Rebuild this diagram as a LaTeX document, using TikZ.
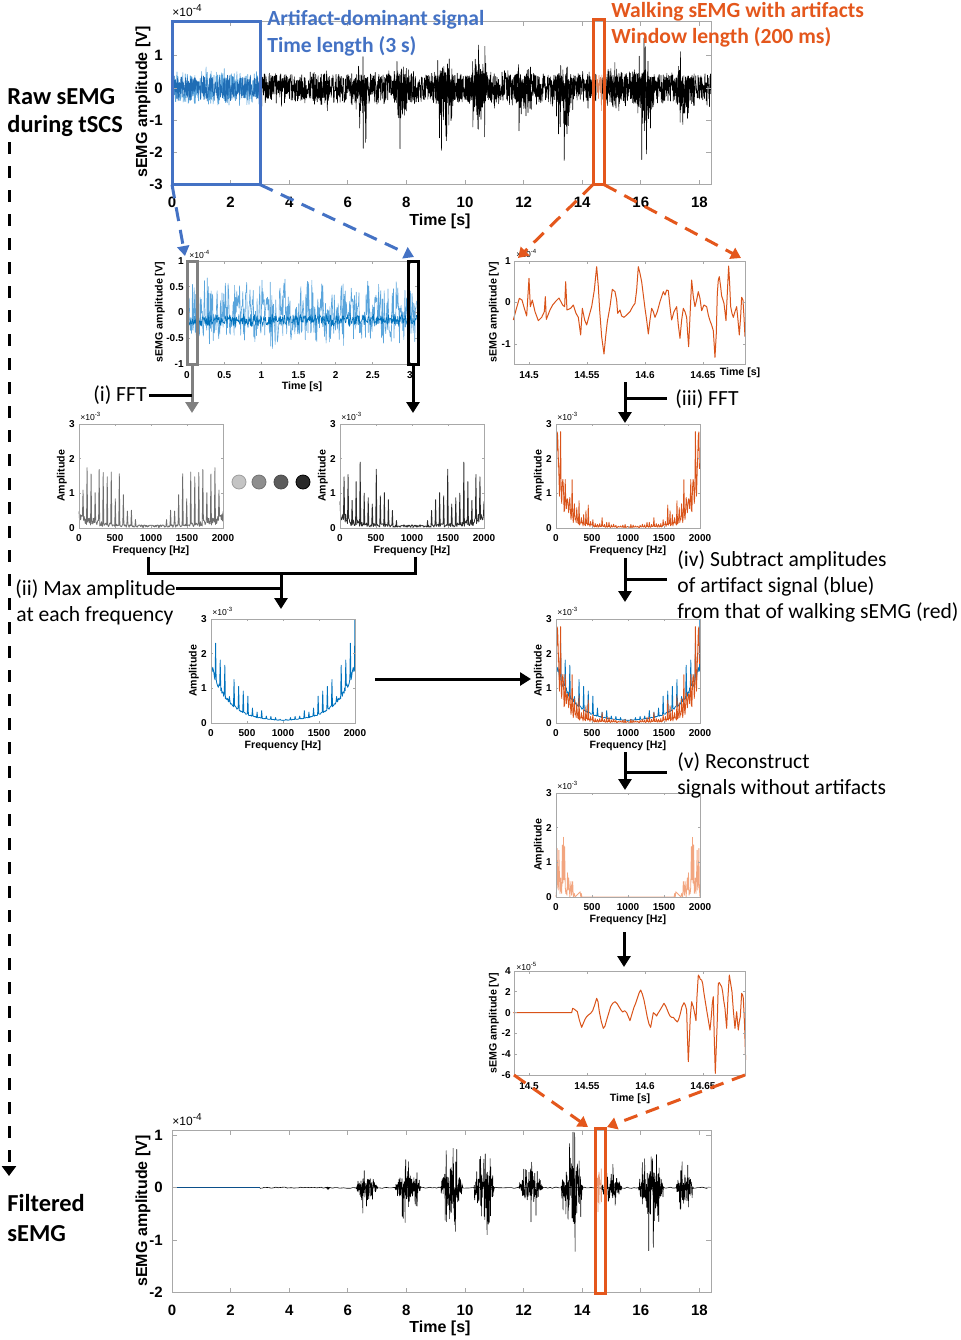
\documentclass[tikz,border=0pt]{standalone}
\usepackage{fontspec}
\setmainfont{Carlito}
\newfontfamily\plotfont{Liberation Sans}
\usetikzlibrary{arrows.meta}
\definecolor{abl}{HTML}{4472C4}
\definecolor{aor}{HTML}{E4571C}
\definecolor{sor}{HTML}{D95319}
\definecolor{lor}{HTML}{F2A57F}
\definecolor{lbl}{HTML}{5AA5DC}
\definecolor{mbl}{HTML}{1F6DB5}
\definecolor{dbl}{HTML}{0B4F8A}
\definecolor{gbl}{HTML}{0072BD}
\definecolor{axc}{HTML}{A8A8A8}
\definecolor{gsp}{HTML}{6E6E6E}
\definecolor{ksp}{HTML}{2A2A2A}
\definecolor{ciA}{HTML}{C4C4C4}
\definecolor{ciB}{HTML}{8E8E8E}
\definecolor{ciC}{HTML}{5C5C5C}
\definecolor{ciD}{HTML}{2A2A2A}
\tikzset{
 sig/.style={line width=0.3pt, line join=round},
 axis/.style={draw=axc, line width=0.5pt},
 tkL/.style={font=\plotfont\bfseries\fontsize{7.5}{8}\selectfont, inner sep=1pt},
 tkS/.style={font=\plotfont\bfseries\fontsize{5}{6}\selectfont, inner sep=0.5pt},
 labL/.style={font=\plotfont\bfseries\fontsize{8}{9}\selectfont, inner sep=0pt},
 labS/.style={font=\plotfont\bfseries\fontsize{5.3}{6}\selectfont, inner sep=0pt},
 expL/.style={font=\plotfont\fontsize{6}{7}\selectfont, inner sep=0pt},
 expS/.style={font=\plotfont\fontsize{4.3}{5}\selectfont, inner sep=0pt},
 ann/.style={font=\fontsize{12.2}{14}\selectfont\bfseries, inner sep=0pt},
 stepl/.style={font=\fontsize{10.8}{13}\selectfont, inner sep=0pt},
 annc/.style={font=\fontsize{10.8}{13}\selectfont\bfseries, inner sep=0pt},
 arr/.style={line width=1.5pt, -{Triangle[width=6.5pt,length=5.5pt]}},
 conn/.style={line width=1.5pt},
 bdash/.style={abl, line width=1.5pt, dash pattern=on 7pt off 4.5pt, -{Triangle[width=6pt,length=5pt]}},
 odash/.style={aor, line width=1.5pt, dash pattern=on 7pt off 4.5pt, -{Triangle[width=6pt,length=5pt]}},
 kdash/.style={black, line width=1.5pt, dash pattern=on 6pt off 6pt, -{Triangle[width=7pt,length=5pt]}},
 hbox/.style={line width=1.5pt},
}
% ticks: name, ytop, ybottom, length, style, list px/label
\newcommand\xtk[6]{\foreach \pp/\lb [count=\k] in {#6}{%
   \draw[axis] (\pp,#3) -- ++(0,-#4) (\pp,#2) -- ++(0,#4);
   \node[#5,anchor=north] (#1x\k) at (\pp,#3) {\lb};}}
\newcommand\ytk[6]{\foreach \pp/\lb [count=\k] in {#6}{%
   \draw[axis] (#2,\pp) -- ++(#4,0) (#3,\pp) -- ++(-#4,0);
   \node[#5,anchor=east] (#1y\k) at (#2,\pp) {\lb};}}
% fft axes: name, x0, ytop
\newcommand\fftax[3]{%
 \pgfmathsetmacro\fb{#3+104}%
 \draw[axis] (#2,#3) rectangle (#2+144,\fb);
 \xtk{#1}{#3}{\fb}{2}{tkS,yshift=-2.5pt}{#2/0,#2+36/500,#2+72/1000,#2+108/1500,#2+144/2000}
 \ytk{#1}{#2}{#2+144}{2}{tkS,xshift=-1.5pt}{\fb/0,\fb-34.667/1,\fb-69.333/2,#3/3}
 \node[labS] (#1xl) at (#2+72,#3+127) {Frequency [Hz]};
 \node[labS,rotate=90] (#1yl) at (#2-17,#3+52) {Amplitude};
 \node[expS,anchor=west] (#1ex) at (#2+1,#3-8) {×10\textsuperscript{-3}};}
% spectrum: x0, ybottom, style, seed ; expression \spx
\newcommand\spec[4]{%
 \begin{scope}[shift={(#1,#2)},xscale=0.576,yscale=-34.667]
  \pgfmathsetseed{#4}\draw[#3] plot[domain=0:125,samples=126] (\x,{\spx});
 \end{scope}
 \begin{scope}[shift={(#1+144,#2)},xscale=-0.576,yscale=-34.667]
  \pgfmathsetseed{#4}\draw[#3] plot[domain=0:125,samples=126] (\x,{\spx});
 \end{scope}}
% burst: color, centre, half width, up, down, samples (dense core with frequent spikes)
\newcommand\burst[6]{%
  \pgfmathsetmacro\bdA{#2-#3}\pgfmathsetmacro\bdB{#2+#3}%
  \draw[sig,#1] plot[domain=\bdA:\bdB,samples=#6] (\x,{bu(\x,#2,#3)*sk(rand*(0.3+0.25*rnd)+(2*round(rnd)-1)*ceil(max(0,rnd-0.8))*(0.3+0.45*rnd),#4,#5)});}
\def\exD{(0.08+0.45*exp(-4*\x/125))*(0.2+0.8*rnd)+max(0,1-mod(\x,7))*(0.35+0.65*rnd)*max(0,1.9*(1-((\x/125-0.34)/0.47)*((\x/125-0.34)/0.47)))}
\def\exG{(0.06+1.75*exp(-4.2*\x/125))*(0.85+0.15*rnd)+max(0,1-mod(\x,8))*(0.2+1.5*rnd)*exp(-1.5*\x/125)*(1-(\x/125)*(\x/125))}
\def\exF{(0.04+3.2*exp(-8*\x/125))*(0.3+0.7*rnd)+max(0,1-mod(\x,4))*(0.15+0.85*rnd*rnd)*3.4*exp(-3.5*\x/125)}
\begin{document}
\begin{tikzpicture}[x=0.5pt,y=-0.5pt,
  declare function={bu(\vt,\vc,\vw)=max(0,1-((\vt-\vc)/\vw)*((\vt-\vc)/\vw));
    sk(\vr,\va,\vb)=\va*max(min(\vr,1),0)+\vb*min(max(\vr,-1),0);}]
\useasboundingbox (0,0) rectangle (961,1340);

%================ A: raw sEMG =================
\begin{scope}[shift={(172,88)},xscale=29.3,yscale=-32.2]
 \pgfmathsetseed{11}
 \draw[sig,lbl] plot[domain=0:3,samples=300] (\x,{rand*(0.38+0.15*rnd+0.3*rnd*rnd*rnd)});
 \draw[sig,mbl] plot[domain=0:3,samples=300] (\x,{rand*(0.3+0.15*rnd)});
 \draw[sig,black] plot[domain=3:14.48,samples=1500] (\x,{rand*(0.35+0.15*rnd+0.4*rnd*rnd*rnd)});
 \draw[sig,black] plot[domain=14.68:18.4,samples=480] (\x,{rand*(0.35+0.15*rnd+0.4*rnd*rnd*rnd)});
 \draw[sig,sor!70] plot[domain=14.48:14.68,samples=24] (\x,{rand*(0.35+0.6*rnd*rnd)});
 \burst{black}{5.2}{0.2}{0.55}{0.95}{50}
 \burst{black}{6.5}{0.3}{1.05}{1.95}{80}
 \burst{black}{7.85}{0.35}{1.35}{2.15}{95}
 \burst{black}{9.3}{0.35}{1.85}{2.35}{95}
 \burst{black}{10.5}{0.35}{1.75}{2.15}{95}
 \burst{black}{12.0}{0.35}{1.15}{2.0}{95}
 \burst{black}{13.4}{0.35}{1.65}{2.65}{95}
 \burst{black}{15.05}{0.3}{1.05}{1.4}{80}
 \burst{black}{16.1}{0.4}{1.55}{2.4}{105}
 \burst{black}{17.4}{0.3}{1.25}{1.95}{80}
\end{scope}
\draw[axis] (172,21) rectangle (711,184.6);
\xtk{A}{21}{184.6}{5}{tkL,yshift=-5pt}{172/0,230.6/2,289.2/4,347.8/6,406.4/8,465/10,523.6/12,582.2/14,640.8/16,699.4/18}
\ytk{A}{172}{711}{5}{tkL,xshift=-3.5pt}{55.8/1,88/0,120.2/-1,152.4/-2,184.6/-3}
\node[labL] (Axl) at (440,221) {Time [s]};
\node[labL,rotate=90] (Ayl) at (143,102) {sEMG amplitude [V]};
\node[expL,anchor=west] (Aex) at (172,11) {×10\textsuperscript{-4}};
\draw[abl,hbox] (172,21) rectangle (260,184.6);
\draw[aor,hbox] (593,19) rectangle (604,184.6);
\coordinate (Abl) at (172,184.6); \coordinate (Abr) at (260,184.6);
\coordinate (Aol) at (593,184.6); \coordinate (Aor) at (604,184.6);
\node[annc,text=abl,anchor=base west] (art1) at (267,25) {Artifact-dominant signal};
\node[annc,text=abl,anchor=base west] (art2) at (267,52) {Time length (3 s)};
\node[annc,text=aor,anchor=base west] (wal1) at (611,17) {Walking sEMG with artifacts};
\node[annc,text=aor,anchor=base west] (wal2) at (611,43) {Window length (200 ms)};

%================ B: artifact signal =================
\begin{scope}[shift={(187,312.5)},xscale=74.3,yscale=-51.5]
 \pgfmathsetseed{21}
 \draw[sig,lbl] plot[domain=0:3.09,samples=420] (\x,{rand*(0.4+0.15*rnd+0.3*rnd*rnd)});
 \draw[sig,gbl] plot[domain=0:3.09,samples=500] (\x,{-0.15+0.14*rand*(0.5+0.5*rnd)});
\end{scope}
\draw[axis] (187,261) rectangle (417,364);
\xtk{B}{261}{364}{2.5}{tkS,yshift=-3pt}{187/0,224.2/0.5,261.3/1,298.5/1.5,335.6/2,372.8/2.5,410/3}
\ytk{B}{187}{417}{2.5}{tkS,xshift=-1pt}{261/1,286.8/0.5,312.5/0,338.3/-0.5,364/-1}
\node[labS] (Bxl) at (302,387) {Time [s]};
\node[labS,rotate=90] (Byl) at (160,312) {sEMG amplitude [V]};
\node[expS,anchor=west] (Bex) at (189,254) {×10\textsuperscript{-4}};
\draw[gray,hbox] (187,261) rectangle (197,364);
\draw[black,hbox] (408,261) rectangle (418,364);
\coordinate (Bgs) at (192,364); \coordinate (Bks) at (413,364);
\coordinate (Btl) at (185,256); \coordinate (Btr) at (414,257);

%================ C: walking window =================
\begin{scope}[shift={(480,240)},scale=0.3333]
 \draw[sor,line width=0.5pt,line join=round] plot coordinates {(100,240)(108,210)(118,175)(126,180)(133,205)(140,228)(147,115)(151,200)(157,180)(165,215)(175,242)(185,232)(193,215)(196,170)(199,238)(210,210)(218,195)(228,183)(237,174)(248,195)(254,200)(257,125)(261,210)(272,205)(280,195)(288,220)(295,232)(302,285)(307,205)(314,240)(320,255)(328,225)(335,200)(343,150)(350,80)(355,140)(359,210)(365,290)(372,342)(377,290)(382,245)(390,200)(397,148)(405,155)(410,180)(413,220)(420,210)(425,228)(432,232)(440,225)(450,215)(458,200)(465,190)(470,150)(475,80)(480,100)(485,125)(490,165)(495,205)(500,240)(505,282)(510,240)(515,205)(520,215)(525,232)(532,215)(540,185)(545,170)(550,155)(555,165)(560,150)(565,152)(570,200)(575,240)(582,215)(590,200)(595,255)(600,295)(605,240)(610,205)(615,215)(620,232)(623,280)(626,320)(630,230)(635,120)(640,170)(645,200)(650,180)(655,155)(660,175)(665,212)(672,195)(680,200)(685,225)(690,242)(695,255)(700,272)(705,352)(709,280)(712,160)(715,120)(718,110)(722,140)(725,168)(729,180)(732,190)(735,215)(738,242)(742,160)(746,78)(749,130)(752,200)(756,220)(760,232)(765,215)(770,200)(774,240)(778,285)(782,230)(785,172)(789,180)(792,230)(795,290)};
\end{scope}
\draw[axis] (514,261) rectangle (745,364);
\xtk{C}{261}{364}{2.5}{tkS,yshift=-3pt}{529/14.5,587/14.55,645/14.6,703/14.65}
\ytk{C}{514}{745}{2.5}{tkS,xshift=-1pt}{261/1,302.5/0,344/-1}
\node[labS] (Cxl) at (740,373) {Time [s]};
\node[labS,rotate=90] (Cyl) at (494,312) {sEMG amplitude [V]};
\node[expS,anchor=west] (Cex) at (516,253) {×10\textsuperscript{-4}};
\coordinate (Ctl) at (518,258); \coordinate (Ctr) at (741,258);

%================ dashed zoom connectors =================
\draw[bdash] (Abl) -- (Btl);
\draw[bdash] (Abr) -- (Btr);
\draw[odash] (Aol) -- (Ctl);
\draw[odash] (Aor) -- (Ctr);

%================ D, E: FFT of artifact windows =================
\let\spx\exD
\spec{79}{528}{sig,gsp,line width=0.4pt}{5}
\spec{340}{528}{sig,ksp,line width=0.4pt}{7}
\fftax{D}{79}{424}
\fftax{E}{340}{424}
\node[circle,fill=ciA,draw=ciA!80!black,line width=0.4pt,minimum size=7pt,inner sep=0pt] (cA) at (239,482) {};
\node[circle,fill=ciB,draw=ciB!80!black,line width=0.4pt,minimum size=7pt,inner sep=0pt] (cB) at (259,482) {};
\node[circle,fill=ciC,draw=ciC!80!black,line width=0.4pt,minimum size=7pt,inner sep=0pt] (cC) at (281,482) {};
\node[circle,fill=ciD,draw=black,line width=0.4pt,minimum size=7pt,inner sep=0pt] (cD) at (303,482) {};

%================ F: FFT of walking window =================
\begin{scope}
 \clip (556,424) rectangle (700,528);
 \let\spx\exF
 \spec{556}{528}{sig,sor,line width=0.4pt}{13}
\end{scope}
\fftax{F}{556}{424}

%================ G: max amplitude =================
\begin{scope}
 \clip (211,619) rectangle (355,723);
 \let\spx\exG
 \spec{211}{723}{sig,gbl,line width=0.4pt}{17}
\end{scope}
\fftax{G}{211}{619}

%================ H: overlay =================
\begin{scope}
 \clip (556,619) rectangle (700,723);
 \let\spx\exG
 \spec{556}{723}{sig,gbl,line width=0.4pt}{17}
 \let\spx\exF
 \spec{556}{723}{sig,sor,line width=0.4pt}{13}
\end{scope}
\fftax{H}{556}{619}

%================ I: reconstructed spectrum =================
\begin{scope}[shift={(556,897)},xscale=0.072,yscale=-34.667]
 \draw[sig,lor,line width=0.4pt] plot coordinates {(0,0)(8,0.2)(16,1.4)(24,0.4)(32,0.2)(40,1.35)(48,0.6)(56,0.1)(64,0.55)(72,0.2)(80,0.1)(88,1.5)(96,0.4)(104,1.72)(112,0.5)(120,1.45)(128,0.3)(136,0.1)(144,0.2)(152,0.05)(160,0.7)(168,0.2)(176,0.55)(184,0.3)(192,0)(208,0.45)(216,0.05)(232,0.45)(240,0)(256,0.1)(264,0)(336,0.15)(344,0)(352,0.1)(360,0)(1000,0)};
\end{scope}
\begin{scope}[shift={(700,897)},xscale=-0.072,yscale=-34.667]
 \draw[sig,lor,line width=0.4pt] plot coordinates {(0,0)(8,0.2)(16,1.4)(24,0.4)(32,0.2)(40,1.35)(48,0.6)(56,0.1)(64,0.55)(72,0.2)(80,0.1)(88,1.5)(96,0.4)(104,1.72)(112,0.5)(120,1.45)(128,0.3)(136,0.1)(144,0.2)(152,0.05)(160,0.7)(168,0.2)(176,0.55)(184,0.3)(192,0)(208,0.45)(216,0.05)(232,0.45)(240,0)(256,0.1)(264,0)(336,0.15)(344,0)(352,0.1)(360,0)(1000,0)};
\end{scope}
\fftax{I}{556}{793}

%================ J: reconstructed window =================
\begin{scope}[shift={(480,940)},scale=0.3333]
 \draw[sor,line width=0.5pt,line join=round] plot coordinates {(100,218)(275,218)(278,205)(282,207)(286,210)(292,215)(298,240)(305,262)(310,250)(315,238)(320,230)(325,225)(332,220)(338,212)(344,195)(350,175)(354,185)(358,215)(364,245)(370,265)(375,258)(380,240)(386,220)(392,200)(398,190)(405,185)(412,192)(418,202)(423,210)(428,216)(434,212)(440,218)(445,230)(450,242)(455,225)(462,202)(467,190)(472,175)(477,160)(482,150)(487,162)(492,180)(497,205)(502,232)(507,252)(512,262)(516,240)(520,218)(525,222)(530,228)(534,220)(538,214)(545,202)(552,190)(557,198)(562,210)(566,220)(570,228)(575,232)(580,232)(586,240)(592,246)(596,238)(600,225)(606,200)(612,188)(616,195)(620,210)(622,280)(625,365)(628,300)(631,230)(635,185)(638,195)(640,200)(644,220)(648,242)(651,170)(655,105)(658,110)(661,118)(665,120)(668,130)(672,160)(676,185)(680,210)(685,240)(690,270)(694,230)(697,190)(700,170)(703,300)(706,400)(709,320)(712,240)(715,130)(718,128)(722,135)(725,140)(728,155)(731,180)(735,205)(740,265)(744,170)(748,105)(752,130)(756,155)(760,210)(765,265)(768,235)(770,215)(773,250)(775,270)(778,245)(781,230)(785,160)(788,165)(790,175)(794,260)(797,360)};
\end{scope}
\draw[axis] (514,971) rectangle (745,1075);
\xtk{J}{971}{1075}{2.5}{tkS,yshift=-3pt}{529/14.5,587/14.55,645/14.6,703/14.65}
\ytk{J}{514}{745}{2.5}{tkS,xshift=-1pt}{971/4,991.8/2,1012.6/0,1033.4/-2,1054.2/-4,1075/-6}
\node[labS] (Jxl) at (630,1099) {Time [s]};
\node[labS,rotate=90] (Jyl) at (494,1023) {sEMG amplitude [V]};
\node[expS,anchor=west] (Jex) at (516,966) {×10\textsuperscript{-5}};
\coordinate (Jbl) at (514,1075); \coordinate (Jbr) at (745,1075);

%================ K: filtered sEMG =================
\begin{scope}[shift={(172,1187.7)},xscale=29.3,yscale=-52.4]
 \pgfmathsetseed{31}
 \draw[dbl,line width=0.4pt] (0,0) -- (3,0);
 \draw[sig,black] plot[domain=3:18.4,samples=200] (\x,{0.012*rand});
 \burst{black}{5.32}{0.07}{0.06}{0.06}{16}
 \burst{black}{6.65}{0.38}{0.45}{0.65}{110}
 \burst{black}{8.05}{0.45}{0.55}{0.7}{130}
 \burst{black}{9.55}{0.38}{0.95}{1.0}{110}
 \burst{black}{10.65}{0.36}{0.9}{1.15}{105}
 \burst{black}{12.25}{0.42}{0.65}{0.65}{120}
 \burst{black}{13.65}{0.38}{1.15}{1.5}{110}
 \burst{black}{15.0}{0.36}{0.55}{0.6}{105}
 \burst{black}{16.35}{0.45}{0.85}{1.25}{130}
 \burst{black}{17.5}{0.3}{0.6}{0.65}{90}
 \draw[sig,sor!60] plot[domain=14.52:14.66,samples=16] (\x,{sk(rand,0.37,0.58)});
\end{scope}
\draw[axis] (172,1130) rectangle (711,1292.5);
\xtk{K}{1130}{1292.5}{5}{tkL,yshift=-5pt}{172/0,230.6/2,289.2/4,347.8/6,406.4/8,465/10,523.6/12,582.2/14,640.8/16,699.4/18}
\ytk{K}{172}{711}{5}{tkL,xshift=-3.5pt}{1135.3/1,1187.7/0,1240.1/-1,1292.5/-2}
\node[labL] (Kxl) at (440,1328) {Time [s]};
\node[labL,rotate=90] (Kyl) at (143,1211) {sEMG amplitude [V]};
\node[expL,anchor=west] (Kex) at (172,1120) {×10\textsuperscript{-4}};
\draw[aor,hbox] (595,1128) rectangle (605,1293);
\coordinate (Ktl) at (588,1127); \coordinate (Ktr) at (607,1127);
\draw[odash] (Jbl) -- (Ktl);
\draw[odash] (Jbr) -- (Ktr);

%================ flow arrows and step labels =================
\coordinate (Dt) at (192,413); \coordinate (Et) at (413,413);
\draw[arr,gray] (Bgs) -- (Dt);
\draw[arr] (Bks) -- (Et);
\node[stepl,anchor=base east] (s1) at (147,401) {(i) FFT};
\coordinate (s1c) at (149,395);
\draw[conn] (s1c) -- (s1c -| Bgs);

\coordinate (DE1) at (148,557); \coordinate (DE2) at (415,557);
\coordinate (J1) at (281,573); \coordinate (Gt) at (281,609);
\draw[conn] (DE1) |- (DE2 |- J1) -- (DE2);
\draw[arr] (J1) -- (Gt);
\node[stepl,anchor=base west] (s2a) at (15,595) {(ii) Max amplitude};
\node[stepl,anchor=base west] (s2b) at (16,621) {at each frequency};
\coordinate (s2c) at (176,588);
\draw[conn] (s2c) -- (s2c -| J1);

\coordinate (Cb) at (625,382); \coordinate (Ft) at (625,423);
\draw[arr] (Cb) -- (Ft);
\coordinate (s3c) at (625,398);
\draw[conn] (s3c) -- ++(42,0);
\node[stepl,anchor=base west] (s3) at (675,405) {(iii) FFT};

\coordinate (Fb) at (625,558); \coordinate (Ht) at (625,602);
\draw[arr] (Fb) -- (Ht);
\coordinate (s4c) at (625,579);
\draw[conn] (s4c) -- ++(42,0);
\node[stepl,anchor=base west] (s4a) at (677,566) {(iv) Subtract amplitudes};
\node[stepl,anchor=base west] (s4b) at (677,592) {of artifact signal (blue)};
\node[stepl,anchor=base west] (s4c) at (677,618) {from that of walking sEMG (red)};

\coordinate (Gr) at (375,679); \coordinate (Hl) at (531,679);
\draw[arr] (Gr) -- (Hl);

\coordinate (Hb) at (625,752); \coordinate (It) at (625,790);
\draw[arr] (Hb) -- (It);
\coordinate (s5c) at (625,772);
\draw[conn] (s5c) -- ++(42,0);
\node[stepl,anchor=base west] (s5a) at (677,768) {(v) Reconstruct};
\node[stepl,anchor=base west] (s5b) at (677,794) {signals without artifacts};

\coordinate (Ib) at (624,932); \coordinate (Jt) at (624,967);
\draw[arr] (Ib) -- (Jt);

%================ left side =================
\node[ann,anchor=base west] (raw1) at (7,104) {Raw sEMG};
\node[ann,anchor=base west] (raw2) at (7,132) {during tSCS};
\coordinate (L1) at (9,142); \coordinate (L2) at (9,1176);
\draw[kdash] (L1) -- (L2);
\node[ann,anchor=base west] (fil1) at (7,1211) {Filtered};
\node[ann,anchor=base west] (fil2) at (7,1241) {sEMG};
\end{tikzpicture}
\end{document}
